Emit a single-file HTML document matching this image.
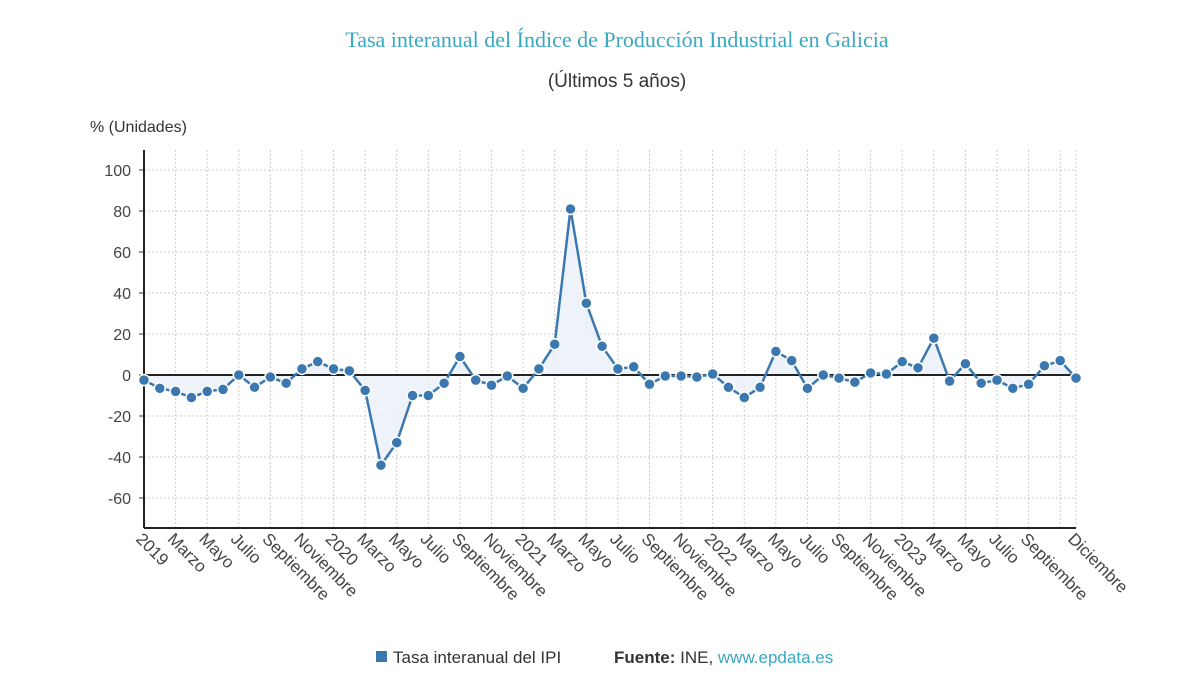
<!DOCTYPE html>
<html><head><meta charset="utf-8"><style>
body{margin:0;background:#fff;width:1200px;height:685px;overflow:hidden;font-family:"Liberation Sans",sans-serif}
</style></head><body>
<svg id="chart" width="1200" height="685" xmlns="http://www.w3.org/2000/svg">
<text x="617" y="47" text-anchor="middle" font-family="Liberation Serif,serif" font-size="22" fill="#3aa8c1">Tasa interanual del Índice de Producción Industrial en Galicia</text>
<text x="617" y="87" text-anchor="middle" font-size="19" fill="#333">(Últimos 5 años)</text>
<text x="90" y="132" font-size="16" fill="#333">% (Unidades)</text>
<g id="grid"></g><g id="area"></g><g id="axes"></g><g id="series"></g><g id="labels"></g>
<g>
<rect x="376" y="651" width="11" height="11" fill="#3b78b0"/>
<text x="393" y="663" font-size="17" fill="#333">Tasa interanual del IPI</text>
<text x="614" y="663" font-size="17" fill="#333"><tspan font-weight="bold">Fuente:</tspan> INE, <tspan fill="#3aa8c1">www.epdata.es</tspan></text>
</g>
</svg>
<script>
const years=['2019','2020','2021','2022','2023'];
const monthNames=['Enero','Febrero','Marzo','Abril','Mayo','Junio','Julio','Agosto','Septiembre','Octubre','Noviembre','Diciembre'];
const values=[-2.5,-6.5,-8,-11,-8,-7,0,-6,-1,-4,3,6.5,
3,2,-7.5,-44,-33,-10,-10,-4,9,-2.5,-5,-0.5,
-6.5,3,15,81,35,14,3,4,-4.5,-0.5,-0.5,-1,
0.5,-6,-11,-6,11.5,7,-6.5,0,-1.5,-3.5,1,0.5,
6.5,3.5,18,-3,5.5,-4,-2.5,-6.5,-4.5,4.5,7,-1.5];
const yTicks=[-60,-40,-20,0,20,40,60,80,100];
const NS='http://www.w3.org/2000/svg';
const L=144,R=1076,T=150,B=528;
const n=values.length;
const x=i=>L+(R-L)*i/(n-1);
const y=v=>375-v*2.05;
function mk(tag,attrs,parent){const e=document.createElementNS(NS,tag);for(const k in attrs)e.setAttribute(k,attrs[k]);document.getElementById(parent).appendChild(e);return e;}
yTicks.forEach(t=>{
 const g=mk('line',{x1:L,x2:R,y1:y(t),y2:y(t),stroke:'#ccc','stroke-dasharray':'2,2'},'grid');
 
 
 const tk=mk('line',{x1:L-5,x2:L,y1:y(t),y2:y(t),stroke:'#333'},'axes');
 
 
 const tx=mk('text',{x:L-13,y:y(t)+6,'text-anchor':'end','font-size':16,fill:'#444'},'labels');
 tx.textContent=t;
 
 
});
for(let i=0;i<n;i++){
 if(i%2===0||i===n-1){
  const g=mk('line',{x1:x(i),x2:x(i),y1:T,y2:B,stroke:'#ccc','stroke-dasharray':'2,2'},'grid');
  
  
  if(i===n-2) continue;
  const m=i%12;
  const lab=m===0?years[Math.floor(i/12)]:monthNames[m];
  const tx=mk('text',{x:0,y:0,'font-size':17,fill:'#444',transform:`translate(${x(i)-9},${B+12}) rotate(45)`},'labels');
  tx.textContent=lab;
  
  
 }
}
let d=`M${x(0)},${y(0)}`;values.forEach((v,i)=>d+=` L${x(i)},${y(v)}`);d+=` L${x(n-1)},${y(0)} Z`;
const ar=mk('path',{d:d,fill:'#e9f0f7',opacity:0.8},'area');


const zl=mk('line',{x1:L,x2:R,y1:y(0),y2:y(0),stroke:'#222','stroke-width':2},'axes');


const ya=mk('line',{x1:L,x2:L,y1:T,y2:B,stroke:'#222','stroke-width':2},'axes');


const xa=mk('line',{x1:L,x2:R,y1:B,y2:B,stroke:'#222','stroke-width':2},'axes');


const ln=mk('polyline',{points:values.map((v,i)=>x(i)+','+y(v)).join(' '),fill:'none',stroke:'#3b78b0','stroke-width':2.5},'series');


values.forEach((v,i)=>{
 const c=mk('circle',{cx:x(i),cy:y(v),r:5.5,fill:'#3b78b0',stroke:'#fff','stroke-width':1.5},'series');
 
 
});
</script>
</body></html>
